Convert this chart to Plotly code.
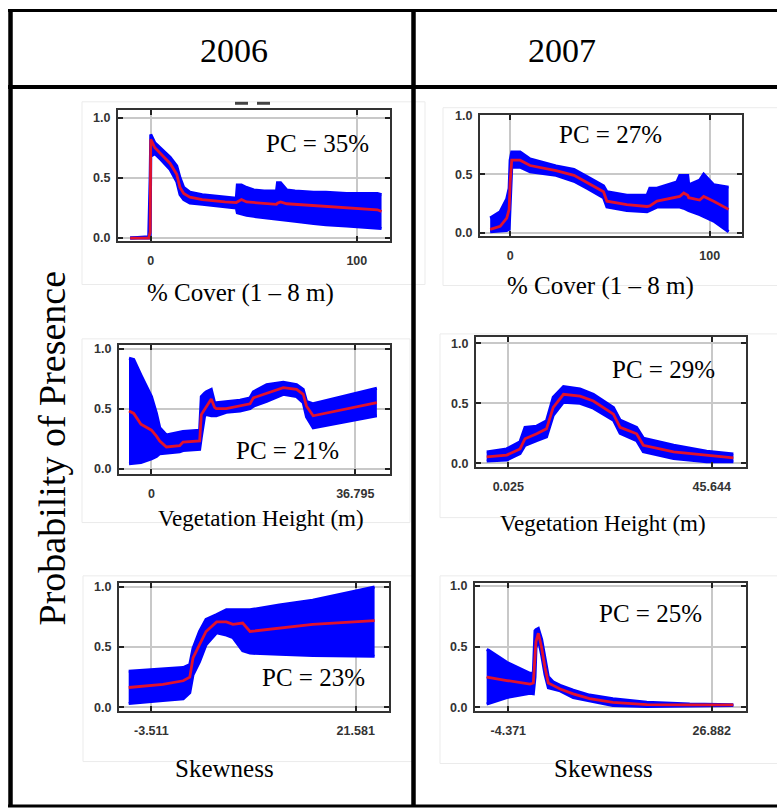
import plotly.graph_objects as go

# ---------------- data ----------------
years = ["2006", "2007"]
y_title = "Probability of Presence"
y_ticks = [0.0, 0.5, 1.0]
y_ticktext = ["0.0", "0.5", "1.0"]

# Panel A: % Cover 2006
A_x = [-10, -1, -0.3, 0, 2, 5, 9.4, 12.6, 14.2, 16, 19, 25, 30, 36, 41.5, 42, 44, 46.5, 50, 55, 61, 61.5, 63, 66, 70, 79, 85, 95, 105, 110, 112]
A_mean = [0.0, 0.0, 0.05, 0.82, 0.75, 0.70, 0.62, 0.53, 0.42, 0.37, 0.34, 0.32, 0.31, 0.30, 0.295, 0.30, 0.32, 0.30, 0.295, 0.285, 0.28, 0.29, 0.30, 0.285, 0.28, 0.27, 0.26, 0.25, 0.24, 0.235, 0.22]
A_upper = [0.0, 0.01, 0.5, 0.86, 0.79, 0.74, 0.67, 0.60, 0.50, 0.42, 0.38, 0.36, 0.35, 0.34, 0.33, 0.44, 0.44, 0.42, 0.40, 0.39, 0.39, 0.46, 0.46, 0.40, 0.39, 0.38, 0.38, 0.37, 0.37, 0.37, 0.36]
A_lower = [0.0, 0.0, 0.0, 0.68, 0.70, 0.65, 0.57, 0.47, 0.36, 0.32, 0.29, 0.28, 0.27, 0.26, 0.25, 0.21, 0.20, 0.19, 0.18, 0.17, 0.16, 0.16, 0.16, 0.15, 0.14, 0.12, 0.11, 0.10, 0.09, 0.085, 0.08]
A_ticks = [0, 100]
A_ticktext = ["0", "100"]

# Panel B: % Cover 2007
B_x = [-10, -5, -1.7, -0.5, 0, 0.8, 5, 10, 23, 32, 38.5, 46.8, 48.5, 58.5, 68.6, 70, 73.6, 83.6, 85, 87, 89, 89.5, 95, 97, 102, 109.5]
B_mean = [0.03, 0.056, 0.126, 0.2, 0.43, 0.62, 0.62, 0.574, 0.53, 0.49, 0.43, 0.35, 0.27, 0.24, 0.225, 0.23, 0.27, 0.30, 0.31, 0.34, 0.32, 0.30, 0.28, 0.31, 0.27, 0.2]
B_upper = [0.126, 0.18, 0.29, 0.38, 0.62, 0.69, 0.69, 0.63, 0.57, 0.54, 0.48, 0.40, 0.35, 0.32, 0.32, 0.38, 0.38, 0.435, 0.49, 0.49, 0.49, 0.41, 0.45, 0.50, 0.41, 0.39]
B_lower = [0.01, 0.015, 0.02, 0.03, 0.3, 0.56, 0.56, 0.52, 0.49, 0.44, 0.38, 0.30, 0.22, 0.19, 0.18, 0.19, 0.22, 0.22, 0.22, 0.21, 0.19, 0.19, 0.155, 0.14, 0.1, 0.01]
B_ticks = [0, 100]
B_ticktext = ["0", "100"]

# Panel C: Vegetation height 2006
C_x = [-4.05, -3.2, -1.9, 0, 0.9, 1.5, 2.7, 5.1, 5.7, 8.7, 9.0, 9.6, 9.9, 10.8, 11.4, 11.7, 13.5, 16.0, 17.8, 18.4, 20.8, 23.8, 26.2, 27.4, 28.0, 29.2, 40.7]
C_mean = [0.48, 0.46, 0.37, 0.32, 0.27, 0.23, 0.18, 0.19, 0.22, 0.23, 0.45, 0.49, 0.51, 0.58, 0.51, 0.50, 0.50, 0.52, 0.54, 0.59, 0.63, 0.675, 0.66, 0.62, 0.52, 0.44, 0.55]
C_upper = [0.92, 0.91, 0.78, 0.60, 0.46, 0.34, 0.28, 0.30, 0.31, 0.32, 0.60, 0.63, 0.64, 0.66, 0.55, 0.55, 0.56, 0.57, 0.59, 0.64, 0.70, 0.72, 0.70, 0.66, 0.56, 0.54, 0.67]
C_lower = [0.04, 0.045, 0.05, 0.08, 0.10, 0.124, 0.13, 0.14, 0.15, 0.16, 0.26, 0.44, 0.45, 0.44, 0.44, 0.44, 0.47, 0.48, 0.50, 0.52, 0.56, 0.62, 0.60, 0.55, 0.43, 0.34, 0.44]
C_ticks = [0, 36.795]
C_ticktext = ["0", "36.795"]

# Panel D: Vegetation height 2007
D_x = [-4.82, -0.34, 2.65, 3.77, 6.4, 8.6, 10.1, 12.4, 16.1, 19.1, 23.6, 25.1, 28.8, 30.3, 37.1, 44.5, 50.5]
D_mean = [0.054, 0.068, 0.12, 0.205, 0.246, 0.288, 0.466, 0.576, 0.56, 0.52, 0.41, 0.30, 0.246, 0.15, 0.095, 0.068, 0.046]
D_upper = [0.095, 0.12, 0.18, 0.30, 0.31, 0.355, 0.55, 0.64, 0.62, 0.576, 0.466, 0.36, 0.30, 0.21, 0.15, 0.10, 0.078]
D_lower = [0.02, 0.027, 0.08, 0.15, 0.19, 0.22, 0.40, 0.51, 0.50, 0.46, 0.36, 0.25, 0.19, 0.096, 0.04, 0.013, 0.013]
D_ticks = [0.025, 45.644]
D_ticktext = ["0.025", "45.644"]

# Panel E: Skewness 2006
E_x = [-6.3, -4.1, -2.1, 0.4, 1.2, 1.6, 2.4, 3.2, 4.5, 5.7, 6.5, 7.7, 8.6, 12.2, 16.3, 23.9]
E_mean = [0.164, 0.178, 0.19, 0.22, 0.25, 0.41, 0.52, 0.63, 0.71, 0.71, 0.69, 0.70, 0.63, 0.66, 0.69, 0.72]
E_upper = [0.30, 0.31, 0.32, 0.33, 0.355, 0.49, 0.63, 0.73, 0.77, 0.81, 0.81, 0.81, 0.81, 0.85, 0.89, 1.0]
E_lower = [0.03, 0.04, 0.055, 0.07, 0.12, 0.27, 0.38, 0.52, 0.62, 0.60, 0.58, 0.47, 0.45, 0.44, 0.43, 0.425]
E_ticks = [-3.511, 21.581]
E_ticktext = ["-3.511", "21.581"]

# Panel F: Skewness 2007
F_x = [-7.7, -7.44, -4.6, -1.04, -0.53, -0.27, -0.12, 0.24, 0.75, 1.26, 1.78, 2.5, 3.6, 5.6, 8.1, 11.7, 16.9, 23.5, 30.2]
F_mean = [0.25, 0.245, 0.22, 0.19, 0.20, 0.40, 0.54, 0.61, 0.49, 0.33, 0.20, 0.18, 0.15, 0.11, 0.07, 0.04, 0.022, 0.019, 0.019]
F_upper = [0.475, 0.47, 0.37, 0.28, 0.28, 0.63, 0.64, 0.65, 0.56, 0.40, 0.25, 0.21, 0.18, 0.14, 0.10, 0.07, 0.04, 0.026, 0.02]
F_lower = [0.027, 0.03, 0.08, 0.114, 0.11, 0.25, 0.49, 0.56, 0.43, 0.27, 0.16, 0.15, 0.135, 0.08, 0.054, 0.014, 0.005, 0.01, 0.015]
F_ticks = [-4.371, 26.882]
F_ticktext = ["-4.371", "26.882"]

pc_labels = ["PC = 35%", "PC = 27%", "PC = 21%", "PC = 29%", "PC = 23%", "PC = 25%"]
x_titles = ["% Cover (1 \u2013 8 m)", "% Cover (1 \u2013 8 m)",
            "Vegetation Height (m)", "Vegetation Height (m)",
            "Skewness", "Skewness"]

# ---------------- layout helpers ----------------
W, H = 777, 811
def fx(p):
    return p / W
def fy(p):
    return 1 - p / H

BLUE = "#0000ff"
RED = "#e2122c"
SERIF = "Liberation Serif, Times New Roman, serif"
SANS = "Liberation Sans, Arial, sans-serif"

panels = [
    dict(x=A_x, m=A_mean, lo=A_lower, hi=A_upper, tv=A_ticks, tt=A_ticktext,
         box=(118, 105, 390, 238), xr=[-15.9, 116.1], yr=[-0.025, 1.066],
         pc=(317, 139), tp=(240, 291), ts=25, frame=(82, 97, 425, 282)),
    dict(x=B_x, m=B_mean, lo=B_lower, hi=B_upper, tv=B_ticks, tt=B_ticktext,
         box=(480, 110, 742, 233), xr=[-15.1, 116.2], yr=[-0.028, 1.008],
         pc=(610, 130), tp=(600, 283), ts=25, frame=(443, 103, 790, 283)),
    dict(x=C_x, m=C_mean, lo=C_lower, hi=C_upper, tv=C_ticks, tt=C_ticktext,
         box=(119, 343, 390, 474), xr=[-5.86, 43.07], yr=[-0.047, 1.033],
         pc=(287, 450), tp=(261, 519), ts=23, frame=(82, 337, 410, 523)),
    dict(x=D_x, m=D_mean, lo=D_lower, hi=D_upper, tv=D_ticks, tt=D_ticktext,
         box=(476, 335, 746, 467), xr=[-7.22, 53.33], yr=[-0.033, 1.055],
         pc=(663, 368), tp=(603, 524), ts=23, frame=(440, 332, 790, 518)),
    dict(x=E_x, m=E_mean, lo=E_lower, hi=E_upper, tv=E_ticks, tt=E_ticktext,
         box=(119, 584, 389, 714), xr=[-7.49, 25.67], yr=[-0.033, 1.035],
         pc=(313, 680), tp=(224, 772), ts=25, frame=(83, 577, 413, 765)),
    dict(x=F_x, m=F_mean, lo=F_lower, hi=F_upper, tv=F_ticks, tt=F_ticktext,
         box=(475, 584, 746, 714), xr=[-9.49, 32.15], yr=[-0.033, 1.026],
         pc=(650, 615), tp=(603, 772), ts=25, frame=(440, 577, 790, 767)),
]

fig = go.Figure()
shapes = []
annotations = []
layout_axes = {}

for i, p in enumerate(panels, start=1):
    xa = "x" if i == 1 else f"x{i}"
    ya = "y" if i == 1 else f"y{i}"
    fig.add_trace(go.Scatter(x=p["x"], y=p["lo"], mode="lines",
                             line=dict(color=BLUE, width=3),
                             xaxis=xa, yaxis=ya, showlegend=False, hoverinfo="skip"))
    fig.add_trace(go.Scatter(x=p["x"], y=p["hi"], mode="lines", fill="tonexty",
                             fillcolor=BLUE, line=dict(color=BLUE, width=3),
                             xaxis=xa, yaxis=ya, showlegend=False, hoverinfo="skip"))
    fig.add_trace(go.Scatter(x=p["x"], y=p["m"], mode="lines",
                             line=dict(color=RED, width=2.8),
                             xaxis=xa, yaxis=ya, showlegend=False))
    x0, y0, x1, y1 = p["box"]
    common = dict(ticks="inside", ticklen=5, tickwidth=1.5, tickcolor="#222",
                  showline=True, linewidth=2, linecolor="#333", mirror="ticks",
                  showgrid=True, gridcolor="#c8c8c8", gridwidth=1.5, zeroline=False,
                  tickfont=dict(family=SANS, size=12.5, color="#333", weight="bold"))
    layout_axes["xaxis" if i == 1 else f"xaxis{i}"] = dict(
        domain=[fx(x0), fx(x1)], anchor=ya, range=p["xr"],
        tickmode="array", tickvals=p["tv"], ticktext=p["tt"],
        ticklabelstandoff=7, **common)
    layout_axes["yaxis" if i == 1 else f"yaxis{i}"] = dict(
        domain=[fy(y1), fy(y0)], anchor=xa, range=p["yr"],
        tickmode="array", tickvals=y_ticks, ticktext=y_ticktext,
        ticklabelstandoff=3, **common)
    # faint frame of the pasted image
    fx0, fy0, fx1, fy1 = p["frame"]
    shapes.append(dict(type="rect", xref="paper", yref="paper",
                       x0=fx(fx0), x1=fx(fx1), y0=fy(fy1), y1=fy(fy0),
                       line=dict(color="#ebebeb", width=1), layer="below"))
    annotations.append(dict(text=pc_labels[i - 1], xref="paper", yref="paper",
                            x=fx(p["pc"][0]), y=fy(p["pc"][1]),
                            xanchor="center", yanchor="middle", showarrow=False,
                            font=dict(family=SERIF, size=25, color="#000")))
    annotations.append(dict(text=x_titles[i - 1], xref="paper", yref="paper",
                            x=fx(p["tp"][0]), y=fy(p["tp"][1]),
                            xanchor="center", yanchor="middle", showarrow=False,
                            font=dict(family=SERIF, size=p["ts"], color="#000")))

# header years
for txt, cx in zip(years, [234, 562]):
    annotations.append(dict(text=txt, xref="paper", yref="paper", x=fx(cx), y=fy(45),
                            xanchor="center", yanchor="middle", showarrow=False,
                            font=dict(family=SERIF, size=34, color="#000")))
# y title
annotations.append(dict(text=y_title, xref="paper", yref="paper", x=fx(52), y=fy(448),
                        xanchor="center", yanchor="middle", showarrow=False, textangle=-90,
                        font=dict(family=SERIF, size=38, color="#000")))

# small dark dashes at top of first panel
for a, b in [(235, 248), (257, 270)]:
    shapes.append(dict(type="rect", xref="paper", yref="paper",
                       x0=fx(a), x1=fx(b), y0=fy(100), y1=fy(97),
                       line=dict(width=0), fillcolor="#444"))

# table lines
def hline(y, x0, x1, w):
    return dict(type="line", xref="paper", yref="paper", x0=fx(x0), x1=fx(x1),
                y0=fy(y), y1=fy(y), line=dict(color="#000", width=w))
def vline(x, y0, y1, w):
    return dict(type="line", xref="paper", yref="paper", x0=fx(x), x1=fx(x),
                y0=fy(y0), y1=fy(y1), line=dict(color="#000", width=w))

shapes += [
    hline(4.5, 8, 777, 3),
    hline(82, 8, 777, 4),
    hline(810, 8, 777, 3),
    vline(10.5, 3, 811, 4.5),
    vline(413.5, 3, 811, 4.5),
]

fig.update_layout(width=W, height=H, margin=dict(l=0, r=0, t=0, b=0),
                  paper_bgcolor="white", plot_bgcolor="white",
                  shapes=shapes, annotations=annotations, showlegend=False,
                  **layout_axes)

fig.write_html("out.html")
